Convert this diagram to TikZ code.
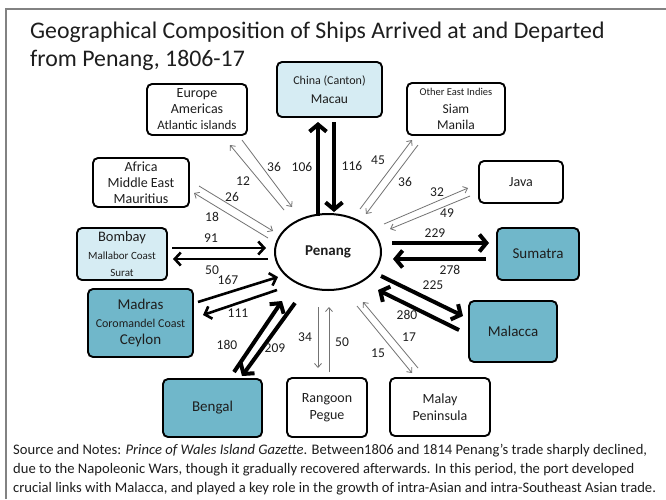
\documentclass[tikz,border=0pt]{standalone}
\usepackage{fontspec}
\setmainfont{Carlito}
\usetikzlibrary{arrows.meta,shapes.geometric}
\definecolor{lightbox}{RGB}{214,236,243}
\definecolor{darkbox}{RGB}{112,183,202}
\definecolor{txt}{RGB}{30,30,30}
\definecolor{thinc}{RGB}{115,115,115}
\definecolor{framec}{RGB}{130,130,130}
\newcommand{\fs}[1]{\fontsize{#1}{#1}\selectfont}
\begin{document}
\begin{tikzpicture}[x=1pt,y=-1pt,
  box/.style={draw=black, line width=1.9pt, rounded corners=5pt, align=center,
    inner sep=0pt, text=txt, font=\fs{14}},
  lbl/.style={text=txt, font=\fs{13.5}, inner sep=0pt},
  bigarrow/.style={line width=4pt, -{Straight Barb[length=7pt,width=17pt]}},
  midarrow/.style={line width=2.6pt, -{Straight Barb[length=6pt,width=13pt]}},
  thinarrow/.style={line width=0.8pt, draw=thinc, -{Straight Barb[length=4pt,width=7pt]}}
]
\useasboundingbox (0,0) rectangle (666,499);
\fill[white] (0,0) rectangle (666,499);
\draw[framec, line width=1.2pt] (6,499) -- (6,9) -- (666,9);

% title
\node[anchor=west, text=txt, font=\fs{23.8}, inner sep=0pt] (t1) at (30,32) {Geographical Composition of Ships Arrived at and Departed};
\node[anchor=west, text=txt, font=\fs{23.8}, inner sep=0pt] (t2) at (30,60) {from Penang, 1806-17};

% nodes
\node[ellipse, draw=black, line width=2pt, minimum width=106pt, minimum height=76pt, inner sep=0pt, font=\bfseries\fs{15}, text=txt] (penang) at (328,252) {Penang};

\node[box, fill=lightbox, minimum width=105pt, minimum height=55pt] (china) at (329.5,89.5)
  {{\fs{12}China (Canton)}\\[5pt]{\fs{13.5}Macau}};
\node[box, minimum width=100pt, minimum height=51pt] (europe) at (197,109.5)
  {Europe\\[2pt]Americas\\[2pt]{\fs{13}Atlantic islands}};
\node[box, minimum width=98pt, minimum height=52pt] (oei) at (456,109)
  {{\fs{10.5}Other East Indies}\\[4pt]{\fs{13.5}Siam}\\[2pt]{\fs{13.5}Manila}};
\node[box, minimum width=96pt, minimum height=49pt] (africa) at (141,182.5)
  {Africa\\[2pt]Middle East\\[2pt]Mauritius};
\node[box, minimum width=84pt, minimum height=42pt] (java) at (521,182) {Java};
\node[box, fill=lightbox, minimum width=90pt, minimum height=52pt] (bombay) at (122,254)
  {{\fs{14.5}Bombay}\\[4pt]{\fs{11}Mallabor Coast}\\[3pt]{\fs{11}Surat}};
\node[box, fill=darkbox, minimum width=82pt, minimum height=52pt, font=\fs{15}] (sumatra) at (538,254) {Sumatra};
\node[box, fill=darkbox, minimum width=105pt, minimum height=68pt] (madras) at (140.5,323)
  {{\fs{15}Madras}\\[4pt]{\fs{12}Coromandel Coast}\\[3pt]{\fs{15}Ceylon}};
\node[box, fill=darkbox, minimum width=88pt, minimum height=61pt, font=\fs{15}] (malacca) at (513,331.5) {Malacca};
\node[box, fill=darkbox, minimum width=99pt, minimum height=58pt, font=\fs{15}] (bengal) at (212.5,408) {Bengal};
\node[box, minimum width=80pt, minimum height=59pt] (rangoon) at (327,407.5) {Rangoon\\[3pt]Pegue};
\node[box, minimum width=100pt, minimum height=58pt] (malay) at (440,407) {Malay\\[3pt]Peninsula};

% arrow end points
\coordinate (c1a) at (318,216); \coordinate (c1b) at (318,122);
\coordinate (c2a) at (334,122); \coordinate (c2b) at (334,212);
\coordinate (s1a) at (392,243); \coordinate (s1b) at (489,243);
\coordinate (s2a) at (486,259); \coordinate (s2b) at (393,259);
\coordinate (m1a) at (381,276); \coordinate (m1b) at (463,316);
\coordinate (m2a) at (459,330); \coordinate (m2b) at (378,290);
\coordinate (g1a) at (234,372); \coordinate (g1b) at (282,301);
\coordinate (g2a) at (295,303); \coordinate (g2b) at (242,376);
\coordinate (b1a) at (172,248); \coordinate (b1b) at (266,248);
\coordinate (b2a) at (268,259); \coordinate (b2b) at (173,259);
\coordinate (d1a) at (198,302); \coordinate (d1b) at (278,277);
\coordinate (d2a) at (277,290); \coordinate (d2b) at (203,315);
\coordinate (e1a) at (284,210); \coordinate (e1b) at (230,145);
\coordinate (e2a) at (242,140); \coordinate (e2b) at (292,207);
\coordinate (f1a) at (268,238); \coordinate (f1b) at (194,193);
\coordinate (f2a) at (199,186); \coordinate (f2b) at (273,231);
\coordinate (o1a) at (360,209); \coordinate (o1b) at (412,140);
\coordinate (o2a) at (418,145); \coordinate (o2b) at (366,214);
\coordinate (j1a) at (384,224); \coordinate (j1b) at (468,188);
\coordinate (j2a) at (470,196); \coordinate (j2b) at (390,229);
\coordinate (y1a) at (418,368); \coordinate (y1b) at (363,302);
\coordinate (y2a) at (357,306); \coordinate (y2b) at (412,373);
\coordinate (r1a) at (318,307); \coordinate (r1b) at (318,368);
\coordinate (r2a) at (329,372); \coordinate (r2b) at (329,307);

\draw[bigarrow] (c1a) -- (c1b);
\draw[bigarrow] (c2a) -- (c2b);
\draw[bigarrow] (s1a) -- (s1b);
\draw[bigarrow] (s2a) -- (s2b);
\draw[bigarrow] (m1a) -- (m1b);
\draw[bigarrow] (m2a) -- (m2b);
\draw[bigarrow] (g1a) -- (g1b);
\draw[bigarrow] (g2a) -- (g2b);
\draw[midarrow] (b1a) -- (b1b);
\draw[midarrow] (b2a) -- (b2b);
\draw[midarrow] (d1a) -- (d1b);
\draw[midarrow] (d2a) -- (d2b);
\draw[thinarrow] (e1a) -- (e1b);
\draw[thinarrow] (e2a) -- (e2b);
\draw[thinarrow] (f1a) -- (f1b);
\draw[thinarrow] (f2a) -- (f2b);
\draw[thinarrow] (o1a) -- (o1b);
\draw[thinarrow] (o2a) -- (o2b);
\draw[thinarrow] (j1a) -- (j1b);
\draw[thinarrow] (j2a) -- (j2b);
\draw[thinarrow] (y1a) -- (y1b);
\draw[thinarrow] (y2a) -- (y2b);
\draw[thinarrow] (r1a) -- (r1b);
\draw[thinarrow] (r2a) -- (r2b);

% labels
\node[lbl] (l36a) at (274,167) {36};
\node[lbl] (l106) at (302,167) {106};
\node[lbl] (l116) at (352,166) {116};
\node[lbl] (l12) at (243,181) {12};
\node[lbl] (l26) at (232,197) {26};
\node[lbl] (l45) at (378,160) {45};
\node[lbl] (l36b) at (405,182) {36};
\node[lbl] (l32) at (437,192) {32};
\node[lbl] (l49) at (447,213) {49};
\node[lbl] (l18) at (212,217) {18};
\node[lbl] (l91) at (211,238) {91};
\node[lbl] (l229) at (435,233) {229};
\node[lbl] (l50a) at (212,270) {50};
\node[lbl] (l278) at (450,270) {278};
\node[lbl] (l167) at (228,280) {167};
\node[lbl] (l225) at (433,285) {225};
\node[lbl] (l111) at (238,313) {111};
\node[lbl] (l280) at (407,315) {280};
\node[lbl] (l17) at (409,337) {17};
\node[lbl] (l34) at (305,337) {34};
\node[lbl] (l50b) at (342,342) {50};
\node[lbl] (l180) at (227,345) {180};
\node[lbl] (l209) at (275,348) {209};
\node[lbl] (l15) at (378,353) {15};

% caption
\node[anchor=west, text=txt, font=\fs{14.6}, inner sep=0pt] (n1) at (13,451)
  {Source and Notes: \textit{Prince of Wales Island Gazette}. Between1806 and 1814 Penang’s trade sharply declined,};
\node[anchor=west, text=txt, font=\fs{14.6}, inner sep=0pt] (n2) at (13,470)
  {due to the Napoleonic Wars, though it gradually recovered afterwards. In this period, the port developed};
\node[anchor=west, text=txt, font=\fs{14.6}, inner sep=0pt] (n3) at (13,489)
  {crucial links with Malacca, and played a key role in the growth of intra-Asian and intra-Southeast Asian trade.};
\end{tikzpicture}
\end{document}
